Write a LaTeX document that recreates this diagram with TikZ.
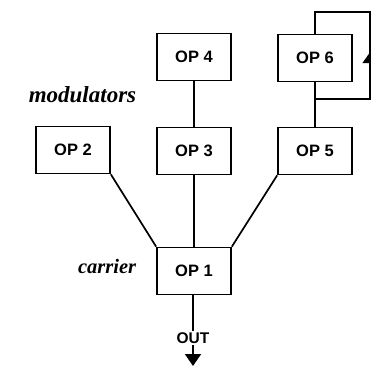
\documentclass[tikz,border=0pt]{standalone}
\usepackage{fontspec}
\setmainfont{Liberation Serif}
\setsansfont{Liberation Sans}
\usetikzlibrary{arrows.meta}
\begin{document}
\begin{tikzpicture}[x=1pt,y=-1pt,line width=1.7pt,
  op/.style={draw,minimum width=74pt,minimum height=47pt,inner sep=0pt,
    font=\sffamily\bfseries\fontsize{16.5}{16.5}\selectfont},
  lab/.style={anchor=base east,inner sep=0pt,
    font=\bfseries\itshape\fontsize{23}{23}\selectfont}]
\useasboundingbox (0,0) rectangle (373,367);
% operators
\node[op] (op4) at (194,57) {OP 4};
\node[op] (op6) at (315,58) {OP 6};
\node[op] (op2) at (73,150) {OP 2};
\node[op] (op3) at (194,151) {OP 3};
\node[op] (op5) at (315,151) {OP 5};
\node[op] (op1) at (194,271) {OP 1};
\node[lab] (modlab) at (137,102) {modulators};
\node[lab,font=\bfseries\itshape\fontsize{20.5}{20.5}\selectfont] (carlab) at (137,273) {carrier};
% connections
\draw (op4) -- (op3);
\draw (op6) -- (op5);
\draw (op3) -- (op1);
\draw (op2.south east) -- (op1.north west);
\draw (op5.south west) -- (op1.north east);
% feedback of op 6
\coordinate (fbtop) at (370,12);
\coordinate (fbbot) at (370,99);
\coordinate (fbtip) at (370,51);
\draw (op6.north) |- (fbtop) -- (fbbot) -- (op6.south |- fbbot);
\draw[-{Triangle[harpoon,length=11pt,width=15pt]}] (fbbot) -- (fbtip);
% output
\node[font=\sffamily\bfseries\fontsize{15.5}{15.5}\selectfont,inner sep=1pt] (out) at (193,338) {OUT};
\coordinate (outtip) at (193,366);
\draw (op1.south -| out) -- (out.north);
\draw[-{Triangle[length=12pt,width=16pt]}] (out.south) -- (outtip);
\end{tikzpicture}
\end{document}
